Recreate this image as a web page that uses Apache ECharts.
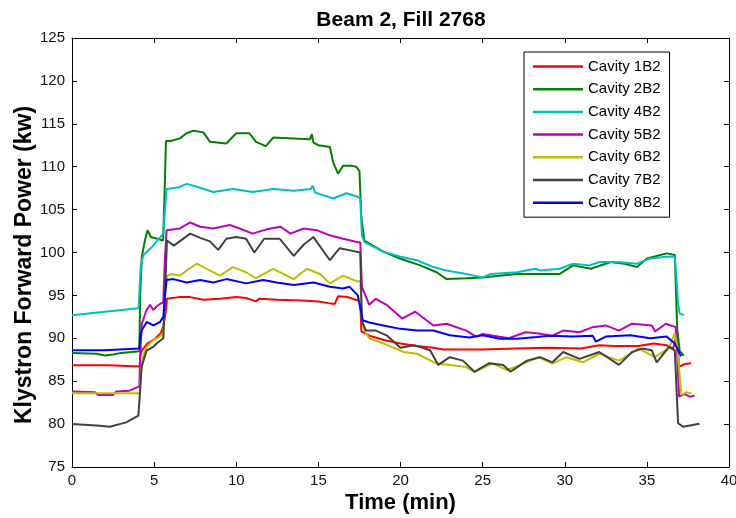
<!DOCTYPE html>
<html>
<head>
<meta charset="utf-8">
<script src="https://cdn.jsdelivr.net/npm/echarts@6/dist/echarts.min.js"></script>
<style>
html,body{margin:0;padding:0;background:#fff;overflow:hidden;}
#chart{width:736px;height:518px;}
</style>
</head>
<body>
<div id="chart"></div>
<script>
var seriesNames = ['Cavity 1B2','Cavity 2B2','Cavity 4B2','Cavity 5B2','Cavity 6B2','Cavity 7B2','Cavity 8B2'];
var seriesColors = ['#ff0000','#008000','#00bfbf','#bf00bf','#bfbf00','#404040','#0000ff'];
var xTicks = [0,5,10,15,20,25,30,35,40];
var yTicks = [75,80,85,90,95,100,105,110,115,120,125];

// [time (min), power (kW)]
var cav1B2 = [[0,86.85],[2.2,86.85],[2.25,86.7],[4.12,86.7],[4.16,88.0],[4.25,88.6],[4.6,89.4],[5.1,90.0],[5.4,90.6],[5.55,91.3],[5.7,93.0],[5.78,94.6],[6.5,94.8],[7.2,94.8],[8.0,94.5],[9.0,94.6],[10.0,94.8],[10.6,94.7],[11.2,94.3],[11.4,94.6],[12.5,94.5],[14.0,94.4],[15.0,94.3],[15.6,94.1],[16.0,94.0],[16.2,94.9],[16.8,94.8],[17.4,94.4],[17.55,94.2],[17.62,90.8],[18.1,90.3],[19.0,89.8],[20.0,89.4],[21.0,89.1],[22.0,88.9],[22.6,88.7],[25.0,88.7],[27.0,88.8],[29.0,88.9],[31.0,88.8],[32.1,89.2],[33.0,89.1],[34.5,89.1],[35.4,89.4],[36.2,89.2],[36.6,88.8],[36.85,90.7],[36.95,86.7],[37.1,86.8],[37.3,87.0],[37.7,87.1]];
var cav2B2 = [[0,88.3],[1.5,88.2],[2.0,88.0],[2.5,88.1],[3.0,88.3],[4.1,88.5],[4.15,95],[4.25,99.5],[4.45,101.5],[4.6,102.6],[4.8,101.8],[5.2,101.6],[5.55,101.4],[5.65,108],[5.72,113.0],[6.0,113.0],[6.57,113.3],[6.98,113.9],[7.4,114.2],[8.0,114.0],[8.4,112.9],[9.4,112.7],[10.0,113.9],[10.8,113.9],[11.2,112.9],[11.8,112.4],[12.25,113.4],[13.5,113.3],[14.5,113.2],[14.6,113.8],[14.7,112.8],[15.0,112.5],[15.7,112.3],[15.9,110.5],[16.2,109.2],[16.5,110.1],[17.0,110.1],[17.3,110.0],[17.5,109.5],[17.62,104],[17.8,101.4],[18.95,100.1],[19.96,99.3],[21.2,98.5],[22.2,97.7],[22.8,96.9],[24.0,97.0],[25.0,97.1],[26.0,97.3],[27.1,97.5],[28.5,97.5],[29.7,97.5],[30.5,98.5],[31.6,98.1],[32.8,98.9],[33.6,98.7],[34.4,98.3],[35.0,99.3],[36.2,99.9],[36.7,99.7],[36.78,95],[36.85,91],[37.0,88.5],[37.25,88.0]];
var cav4B2 = [[0,92.7],[2.0,93.1],[4.05,93.5],[4.12,96],[4.2,98.7],[4.35,99.7],[4.85,100.6],[5.15,101.3],[5.56,102.2],[5.66,105],[5.76,107.4],[6.5,107.6],[7.0,108.0],[7.7,107.6],[8.6,107.05],[9.8,107.4],[11.0,107.05],[12.25,107.4],[13.5,107.2],[14.55,107.4],[14.65,107.8],[14.8,107.0],[15.1,106.8],[15.9,106.3],[16.7,106.9],[17.4,106.5],[17.55,106.3],[17.65,102],[17.8,101.2],[18.95,100.1],[20.0,99.5],[21.0,99.1],[22.0,98.3],[22.8,97.9],[24.0,97.5],[25.0,97.1],[25.5,97.5],[27.1,97.7],[28.2,98.1],[28.5,97.9],[29.7,98.1],[30.5,98.7],[31.5,98.5],[32.1,98.9],[33.2,98.9],[34.4,98.7],[35.2,99.3],[36.2,99.5],[36.7,99.5],[36.8,97],[36.9,94],[37.0,92.9],[37.25,92.7]];
var cav5B2 = [[0,83.8],[1.4,83.7],[1.6,83.4],[2.5,83.4],[2.7,83.8],[3.5,83.9],[4.1,84.4],[4.15,88],[4.25,91.7],[4.54,93.3],[4.75,93.9],[4.95,93.3],[5.15,93.7],[5.36,94.0],[5.56,94.2],[5.65,99],[5.76,102.6],[6.57,102.8],[7.2,103.5],[7.8,103.0],[8.6,102.8],[9.6,103.2],[10.2,102.8],[11.0,102.2],[11.85,102.7],[12.7,103.0],[13.3,102.2],[14.1,102.8],[14.9,102.6],[15.7,102.0],[16.5,101.6],[17.4,101.2],[17.55,101.2],[17.65,96],[18.1,93.9],[18.5,94.6],[19.15,93.9],[20.1,92.3],[20.9,93.1],[22.0,91.5],[22.8,91.7],[24.0,90.9],[24.6,90.2],[25.0,90.5],[26.6,90.0],[27.6,90.7],[28.3,90.6],[29.25,90.3],[29.9,90.9],[30.9,90.7],[31.7,91.3],[32.5,91.5],[33.3,90.9],[34.1,91.7],[35.3,91.5],[35.5,90.8],[36.15,91.7],[36.75,91.3],[36.85,88],[36.96,83.2],[37.3,83.5],[37.6,83.2],[37.9,83.3]];
var cav6B2 = [[0,83.6],[4.12,83.6],[4.2,86],[4.3,87.8],[4.55,89.0],[4.95,89.8],[5.36,90.2],[5.56,90.7],[5.66,95],[5.8,97.3],[6.1,97.5],[6.57,97.3],[6.98,97.9],[7.6,98.7],[8.2,98.1],[9.0,97.3],[9.8,98.3],[10.6,97.7],[11.2,97.0],[12.25,98.1],[13.5,96.9],[14.3,98.1],[15.1,97.5],[15.7,96.4],[16.5,97.3],[17.4,96.6],[17.55,96.7],[17.65,92.1],[17.8,90.9],[18.1,90.0],[18.95,89.4],[20.2,88.4],[21.0,88.2],[22.2,87.05],[23.0,86.9],[24.0,86.65],[24.5,86.1],[25.6,87.05],[26.5,86.3],[27.5,87.05],[28.4,87.8],[29.25,87.05],[30.1,87.8],[31.1,87.2],[32.1,88.2],[33.3,87.4],[34.5,88.8],[35.5,87.8],[36.35,88.9],[36.7,90.6],[36.85,89],[37.1,83.4],[37.4,83.7],[37.7,83.6]];
var cav7B2 = [[0,80.0],[1.0,79.9],[1.7,79.8],[2.3,79.7],[3.3,80.2],[4.04,81.0],[4.15,84],[4.24,86.7],[4.55,88.6],[4.95,89.0],[5.15,89.4],[5.56,90.0],[5.66,95],[5.78,101.4],[6.2,100.8],[7.2,102.2],[7.8,101.7],[8.4,101.3],[8.9,100.3],[9.4,101.6],[10.0,101.8],[10.6,101.6],[11.1,100.0],[11.7,101.6],[12.65,101.6],[13.5,99.6],[14.1,100.9],[14.7,101.8],[15.7,99.1],[16.3,100.5],[17.3,100.1],[17.55,100.0],[17.65,92],[17.9,90.9],[18.5,90.9],[19.15,90.35],[20.0,88.9],[20.8,89.2],[21.8,88.6],[22.3,86.9],[23.0,87.8],[23.8,87.4],[24.5,86.1],[25.4,87.1],[26.25,86.9],[26.7,86.1],[27.7,87.4],[28.5,87.8],[29.25,87.2],[29.9,88.4],[30.9,87.6],[32.1,88.4],[33.3,86.9],[34.1,88.4],[34.7,88.8],[35.3,88.6],[35.6,87.2],[36.35,89.0],[36.7,88.6],[36.9,80.1],[37.2,79.7],[38.2,80.05]];
var cav8B2 = [[0,88.6],[2.0,88.6],[4.1,88.8],[4.15,90],[4.24,90.9],[4.55,91.9],[4.95,91.5],[5.36,91.9],[5.56,92.5],[5.66,95],[5.75,96.8],[6.17,96.9],[6.98,96.5],[7.8,96.8],[8.6,96.5],[9.4,96.9],[10.6,96.4],[11.65,96.8],[12.45,96.5],[13.5,96.2],[14.7,96.5],[15.7,96.0],[16.5,95.8],[16.9,96.0],[17.4,95.0],[17.7,92.1],[18.1,91.85],[18.95,91.5],[20.0,91.1],[21.0,90.9],[22.0,90.9],[23.0,90.35],[24.2,90.1],[25.0,90.35],[26.05,89.95],[27.1,89.95],[28.3,90.15],[29.1,90.3],[30.5,90.2],[31.7,90.3],[31.9,89.6],[32.5,90.2],[34.0,90.35],[35.2,90.0],[36.2,90.2],[36.7,89.4],[37.0,88.2],[37.1,87.9]];

var seriesData = [cav1B2, cav2B2, cav4B2, cav5B2, cav6B2, cav7B2, cav8B2];

var FONT = '"Liberation Sans", Arial, sans-serif';
var chart = echarts.init(document.getElementById('chart'), null, {renderer: 'canvas', width: 736, height: 518});

var axisCommon = {
  axisLine: {show: true, onZero: false, lineStyle: {color: '#000', width: 1}},
  axisTick: {show: true, inside: true, length: 5, lineStyle: {color: '#000'}},
  splitLine: {show: false}
};

var option = {
  backgroundColor: '#fff',
  animation: false,
  title: {
    text: 'Beam 2, Fill 2768',
    left: 396,
    textAlign: 'center',
    top: 5,
    textStyle: {fontFamily: FONT, fontWeight: 'bold', fontSize: 21, color: '#000'}
  },
  grid: {left: 72, right: 7, top: 38, bottom: 51, containLabel: false, outerBoundsMode: 'none'},
  legend: {
    orient: 'vertical',
    left: 524,
    top: 52,
    data: seriesNames,
    icon: 'path://M0,0L50,0L50,2.5L0,2.5Z',
    itemWidth: 50,
    itemHeight: 15,
    itemGap: 7.7,
    padding: [7, 9, 7, 9],
    borderColor: '#000',
    borderWidth: 1,
    backgroundColor: '#fff',
    selectedMode: false,
    textStyle: {fontFamily: FONT, fontSize: 15, color: '#000', lineHeight: 15}
  },
  xAxis: [
    Object.assign({
      type: 'value', min: xTicks[0], max: xTicks[xTicks.length - 1], interval: xTicks[1] - xTicks[0],
      position: 'bottom',
      name: 'Time (min)', nameLocation: 'middle', nameGap: 25, nameMoveOverlap: false,
      nameTextStyle: {fontFamily: FONT, fontWeight: 'bold', fontSize: 22, color: '#000'},
      axisLabel: {fontFamily: FONT, fontSize: 15, color: '#111', margin: 6}
    }, axisCommon),
    Object.assign({
      type: 'value', min: xTicks[0], max: xTicks[xTicks.length - 1], interval: xTicks[1] - xTicks[0],
      position: 'top', axisLabel: {show: false}
    }, axisCommon)
  ],
  yAxis: [
    Object.assign({
      type: 'value', min: yTicks[0], max: yTicks[yTicks.length - 1], interval: yTicks[1] - yTicks[0],
      position: 'left',
      name: 'Klystron Forward Power (kw)', nameLocation: 'middle', nameGap: 36, nameMoveOverlap: false,
      nameTextStyle: {fontFamily: FONT, fontWeight: 'bold', fontSize: 23, color: '#000', padding: [0, 25, 0, 0]},
      axisLabel: {fontFamily: FONT, fontSize: 15, color: '#111', margin: 7}
    }, axisCommon),
    Object.assign({
      type: 'value', min: yTicks[0], max: yTicks[yTicks.length - 1], interval: yTicks[1] - yTicks[0],
      position: 'right', axisLabel: {show: false}
    }, axisCommon)
  ],
  series: seriesNames.map(function (name, i) {
    return {
      name: name,
      type: 'line',
      xAxisIndex: 0,
      yAxisIndex: 0,
      data: seriesData[i],
      showSymbol: false,
      symbol: 'none',
      color: seriesColors[i],
      lineStyle: {color: seriesColors[i], width: 2},
      itemStyle: {color: seriesColors[i]},
      emphasis: {disabled: true},
      z: 2 + i
    };
  })
};
chart.setOption(option);
</script>
</body>
</html>
